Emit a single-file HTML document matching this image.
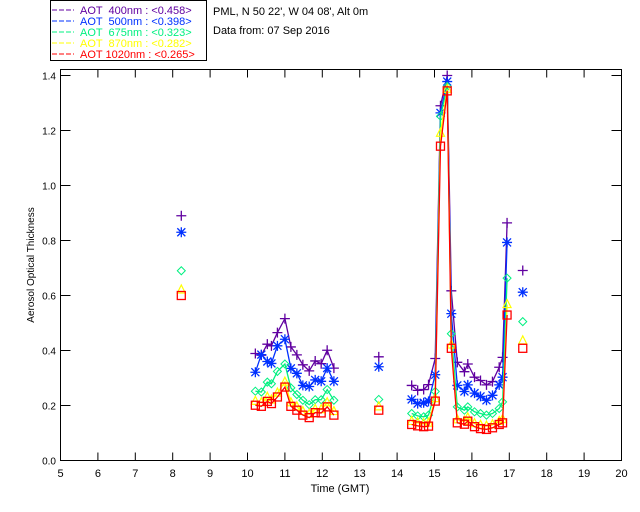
<!DOCTYPE html>
<html><head><meta charset="utf-8"><style>
body{margin:0;background:#fff;}
svg{display:block;font-family:"Liberation Sans",sans-serif;}
</style></head><body>
<svg id="chart" width="640" height="512" xmlns="http://www.w3.org/2000/svg">
<rect x="0" y="0" width="640" height="512" fill="#fff"/>
<g>
<rect x="50.5" y="0.5" width="156" height="60" fill="none" stroke="#000"/>
<g font-size="11">
<g><line x1="52" x2="74" y1="10" y2="10" stroke="#6000a0" stroke-dasharray="5,2"/><text x="80" y="14" fill="#6000a0" xml:space="preserve">AOT  400nm : &lt;0.458&gt;</text></g>
<g><line x1="52" x2="74" y1="21" y2="21" stroke="#0030ff" stroke-dasharray="5,2"/><text x="80" y="25" fill="#0030ff" xml:space="preserve">AOT  500nm : &lt;0.398&gt;</text></g>
<g><line x1="52" x2="74" y1="32" y2="32" stroke="#00f080" stroke-dasharray="5,2"/><text x="80" y="36" fill="#00f080" xml:space="preserve">AOT  675nm : &lt;0.323&gt;</text></g>
<g><line x1="52" x2="74" y1="43" y2="43" stroke="#ffff00" stroke-dasharray="5,2"/><text x="80" y="47" fill="#ffff00" xml:space="preserve">AOT  870nm : &lt;0.282&gt;</text></g>
<g><line x1="52" x2="74" y1="54" y2="54" stroke="#ff0000" stroke-dasharray="5,2"/><text x="80" y="58" fill="#ff0000" xml:space="preserve">AOT 1020nm : &lt;0.265&gt;</text></g>
</g>
</g>
<text x="213" y="15" font-size="11">PML, N 50 22', W 04 08', Alt 0m</text>
<text x="213" y="34" font-size="11">Data from: 07 Sep 2016</text>
<rect x="60.5" y="69.5" width="561" height="391" fill="none" stroke="#000"/>
<g id="axes"></g>
<g id="series"></g>
<text x="340" y="492" font-size="11" text-anchor="middle">Time (GMT)</text>
<text transform="translate(34,265) rotate(-90)" font-size="10" text-anchor="middle">Aerosol Optical Thickness</text>
</svg>
<script>
const times = [8.23,
 10.21,10.37,10.53,10.64,10.80,11.00,11.16,11.32,11.48,11.65,11.81,11.97,12.13,12.31,
 13.51,
 14.39,14.55,14.71,14.84,15.02,15.16,15.34,15.45,15.61,15.80,15.89,16.07,16.23,16.39,16.55,16.73,16.82,16.94,
 17.36];
const aot400 = [0.89,
 0.389,0.383,0.423,0.417,0.465,0.516,0.413,0.384,0.348,0.326,0.362,0.352,0.401,0.336,
 0.377,
 0.273,0.255,0.258,0.276,0.371,1.29,1.40,0.617,0.357,0.323,0.351,0.303,0.291,0.275,0.287,0.339,0.375,0.864,
 0.691];
const aot500 = [0.83,
 0.321,0.385,0.360,0.353,0.417,0.441,0.335,0.317,0.273,0.269,0.293,0.288,0.336,0.288,
 0.341,
 0.222,0.207,0.210,0.215,0.312,1.264,1.378,0.534,0.273,0.251,0.275,0.245,0.233,0.219,0.237,0.275,0.303,0.793,
 0.612];
const aot675 = [0.69,
 0.252,0.249,0.285,0.279,0.324,0.351,0.264,0.240,0.219,0.203,0.221,0.221,0.258,0.219,
 0.222,
 0.171,0.162,0.159,0.165,0.251,1.252,1.360,0.461,0.195,0.183,0.195,0.177,0.171,0.165,0.171,0.189,0.213,0.663,
 0.505];
const aot870 = [0.62,
 0.215,0.210,0.230,0.220,0.245,0.285,0.210,0.195,0.178,0.168,0.186,0.185,0.210,0.178,
 0.195,
 0.142,0.137,0.134,0.136,0.225,1.19,1.35,0.42,0.148,0.143,0.155,0.134,0.128,0.125,0.130,0.142,0.149,0.567,
 0.435];
const aot1020 = [0.60,
 0.201,0.197,0.215,0.207,0.231,0.267,0.197,0.183,0.165,0.156,0.174,0.173,0.195,0.165,
 0.183,
 0.131,0.126,0.123,0.125,0.216,1.143,1.344,0.408,0.137,0.132,0.143,0.123,0.116,0.113,0.119,0.131,0.137,0.529,
 0.408];
const xTicks = [5,6,7,8,9,10,11,12,13,14,15,16,17,18,19,20];
const yTicks = [0.0,0.2,0.4,0.6,0.8,1.0,1.2,1.4];

const NS = "http://www.w3.org/2000/svg";
const X = t => 60.5 + (t - 5) * 37.4;
const Y = v => 460.5 - v * 275;
const axes = document.getElementById('axes');
const series = document.getElementById('series');
function mk(tag, attrs, parent){const e=document.createElementNS(NS,tag);for(const k in attrs)e.setAttribute(k,attrs[k]);parent.appendChild(e);return e;}

xTicks.forEach(t=>{
  const x=X(t);
  const a=mk('line',{x1:x,x2:x,y1:460.5,y2:452.5,stroke:'#000'},axes);
  
  
  const b=mk('line',{x1:x,x2:x,y1:69.5,y2:77.5,stroke:'#000'},axes);
  
  
  const l=mk('text',{x:x,y:477,'font-size':11,'text-anchor':'middle'},axes);
  l.textContent=t;
  
  
});
yTicks.forEach(v=>{
  const y=Y(v);
  const a=mk('line',{x1:60.5,x2:70.5,y1:y,y2:y,stroke:'#000'},axes);
  
  
  const b=mk('line',{x1:611.5,x2:621.5,y1:y,y2:y,stroke:'#000'},axes);
  
  
  const l=mk('text',{x:56,y:y+4,'font-size':10,'text-anchor':'end'},axes);
  l.textContent=v.toFixed(1);
  
  
});

const defs=[
 {vals:aot400,color:'#6000a0',m:'plus',name:'series-400nm'},
 {vals:aot500,color:'#0030ff',m:'star',name:'series-500nm'},
 {vals:aot675,color:'#00f080',m:'diamond',name:'series-675nm'},
 {vals:aot870,color:'#ffff00',m:'tri',name:'series-870nm'},
 {vals:aot1020,color:'#ff0000',m:'square',name:'series-1020nm'}
];
defs.forEach(d=>{
  const g=mk('g',{},series);
  
  
  let seg=[];
  const flush=()=>{ if(seg.length>1){const p=mk('polyline',{points:seg.join(' '),fill:'none',stroke:d.color,'stroke-width':1.3},g);
    
    } seg=[]; };
  times.forEach((t,i)=>{
    if(i>0 && t-times[i-1]>0.3) flush();
    seg.push(X(t).toFixed(1)+','+Y(d.vals[i]).toFixed(1));
  });
  flush();
  times.forEach((t,i)=>{
    const x=X(t), y=Y(d.vals[i]); let e;
    if(d.m==='plus') e=mk('path',{d:`M${x-5},${y}H${x+5}M${x},${y-5}V${y+5}`,stroke:d.color,'stroke-width':1.3,fill:'none'},g);
    else if(d.m==='star') e=mk('path',{d:`M${x-5},${y}H${x+5}M${x},${y-5}V${y+5}M${x-4},${y-4}L${x+4},${y+4}M${x-4},${y+4}L${x+4},${y-4}`,stroke:d.color,'stroke-width':1.3,fill:'none'},g);
    else if(d.m==='diamond') e=mk('path',{d:`M${x},${y-4}L${x+4},${y}L${x},${y+4}L${x-4},${y}Z`,stroke:d.color,'stroke-width':1,fill:'none'},g);
    else if(d.m==='tri') e=mk('path',{d:`M${x},${y-5}L${x+4},${y+3}L${x-4},${y+3}Z`,stroke:d.color,'stroke-width':1.2,fill:'none'},g);
    else e=mk('rect',{x:x-4,y:y-4,width:8,height:8,stroke:d.color,'stroke-width':1.3,fill:'none'},g);
    
    
  });
});
</script>
</body></html>
